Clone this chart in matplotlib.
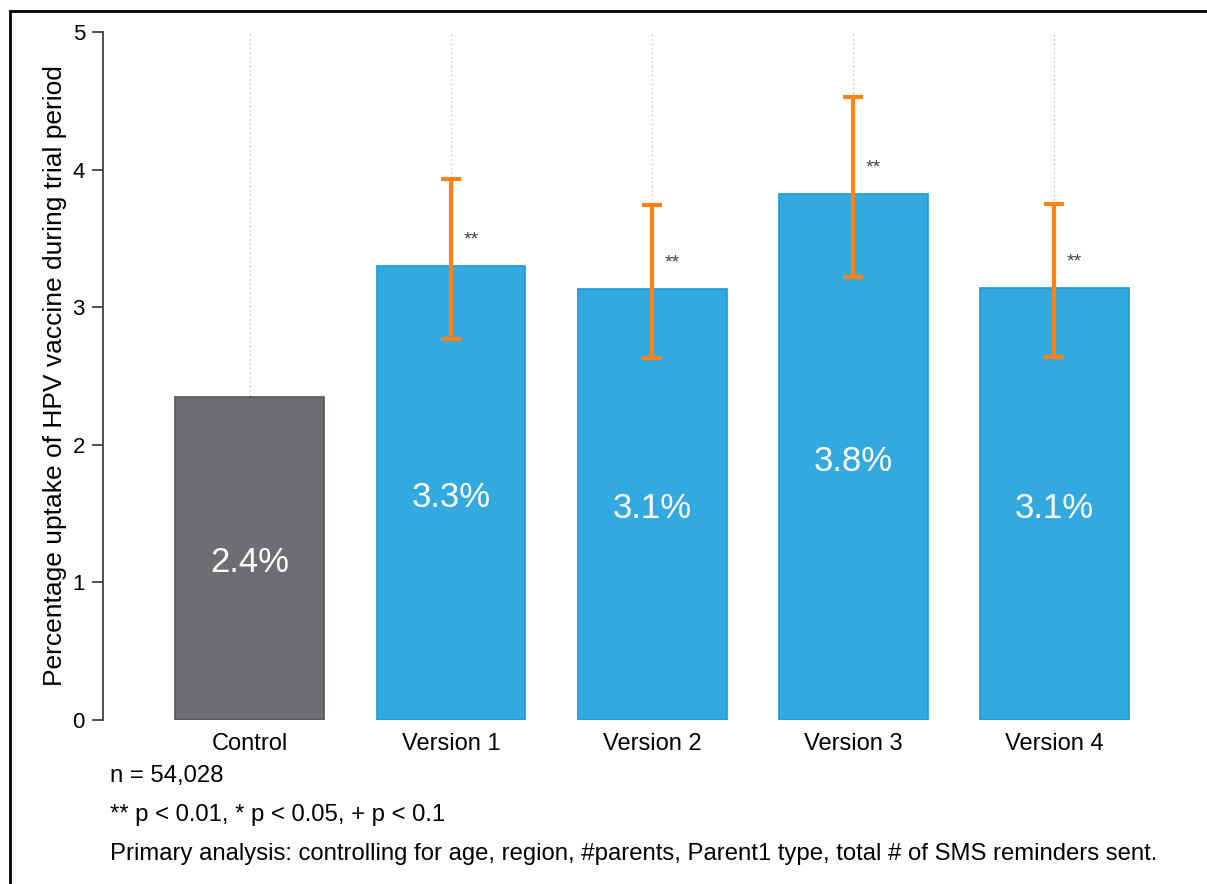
import matplotlib.pyplot as plt
from matplotlib.lines import Line2D

plt.rcParams['font.family'] = ['Liberation Sans', 'DejaVu Sans']

# uptake (%) per arm, with 95% CI bounds for the treatment arms
groups = ['Control', 'Version 1', 'Version 2', 'Version 3', 'Version 4']
uptake = [2.35, 3.30, 3.13, 3.82, 3.14]
ci_low = [None, 2.77, 2.63, 3.22, 2.64]
ci_high = [None, 3.93, 3.74, 4.53, 3.75]
stars = ['', '**', '**', '**', '**']

footnotes = [
    'n = 54,028',
    '** p < 0.01, * p < 0.05, + p < 0.1',
    'Primary analysis: controlling for age, region, #parents, Parent1 type, total # of SMS reminders sent.',
]

grey = '#6d6e71'
blue = '#33aadf'
orange = '#ff8214'

fig = plt.figure(figsize=(12.07, 8.84), dpi=100)
ax = fig.add_axes([103 / 1207, 1 - 720 / 884, (1155 - 103) / 1207, (720 - 32) / 884])

x = list(range(len(groups)))
colors = [grey] + [blue] * (len(groups) - 1)
edges = ['#555558'] + ['#1c9bd6'] * (len(groups) - 1)
ax.bar(x, uptake, width=0.74, color=colors, edgecolor=edges, linewidth=1.2, zorder=2)

for i in x:
    ax.text(i, uptake[i] * 0.5 - 0.03, f'{uptake[i]:.1f}%', ha='center', va='center',
            color='white', fontsize=25, zorder=4)
    if ci_low[i] is None:
        continue
    ax.errorbar(i, uptake[i], yerr=[[uptake[i] - ci_low[i]], [ci_high[i] - uptake[i]]],
                fmt='none', ecolor=orange, elinewidth=3, capsize=7, capthick=3, zorder=3)
    ax.text(i + 0.1, uptake[i] + 0.19, stars[i], ha='center', va='center',
            color='#444444', fontsize=14, zorder=4)

ax.set_xlim(-0.73, 4.5)
ax.set_ylim(0, 5)
ax.set_xticks(x)
ax.set_xticklabels(groups, fontsize=17)
ax.set_yticks(range(6))
ax.tick_params(axis='x', length=0, pad=9)
ax.tick_params(axis='y', length=8, width=1.2, color='#333333', labelsize=16, pad=5)
ax.set_ylabel('Percentage uptake of HPV vaccine during trial period', fontsize=19, labelpad=4)

for s in ['top', 'right', 'bottom']:
    ax.spines[s].set_visible(False)
ax.spines['left'].set_color('#333333')
ax.spines['left'].set_linewidth(1.2)

ax.xaxis.grid(True, linestyle=(0, (1, 3)), color='#aaaaaa', linewidth=0.8)
ax.set_axisbelow(True)

for k, line in enumerate(footnotes):
    fig.text(110 / 1207, 1 - (776 + 39 * k) / 884, line, fontsize=17.2, va='center', ha='left')

# frame around the figure
fig.add_artist(Line2D([10 / 1207, 1.01], [1 - 11 / 884] * 2, color='black', lw=2))
fig.add_artist(Line2D([10 / 1207] * 2, [1 - 11 / 884, -0.01], color='black', lw=2))

fig.savefig('out.png', dpi=100)
